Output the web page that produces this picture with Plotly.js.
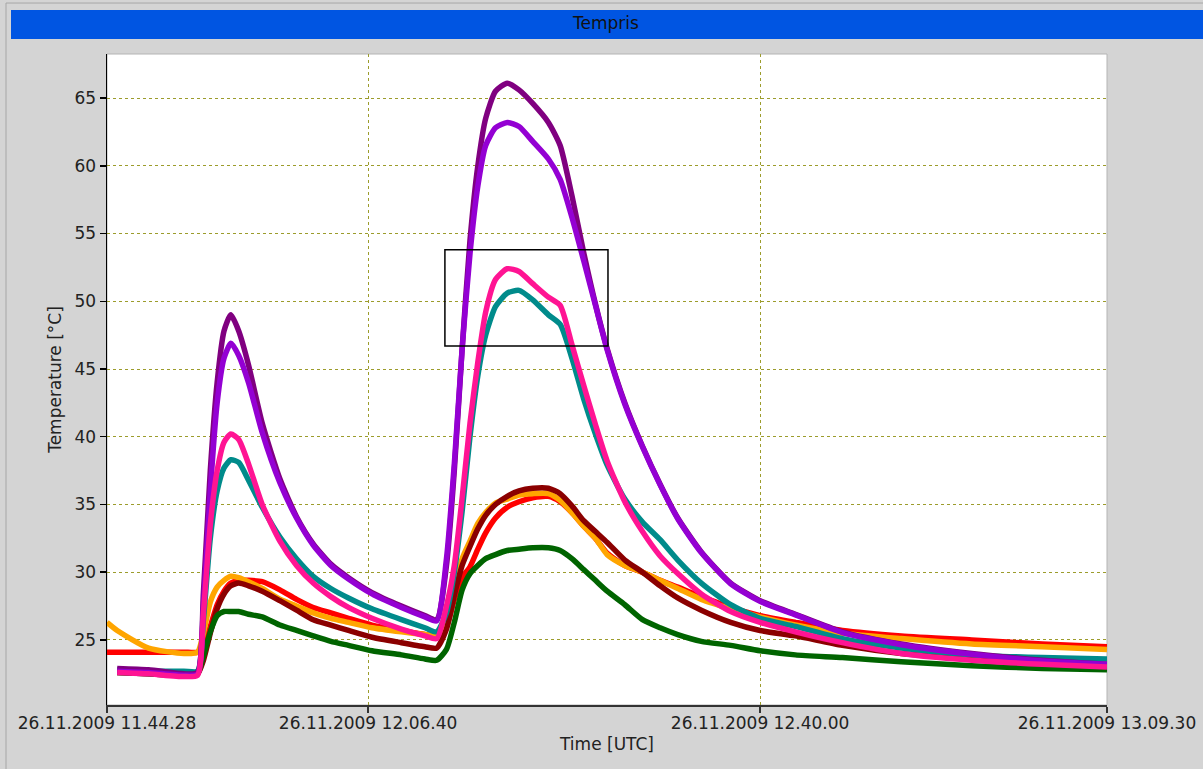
<!DOCTYPE html>
<html>
<head>
<meta charset="utf-8">
<script src="https://cdn.plot.ly/plotly-3.0.1.min.js"></script>
<style>
html,body{margin:0;padding:0;background:#d4d4d4;overflow:hidden;}
#chart{width:1203px;height:769px;}
</style>
</head>
<body>
<div id="chart"></div>
<script>
// ---- data ----
const day = "2009-11-26";
const times = ["11:44:28","11:45:20","11:48:00","11:51:00","11:52:10","11:52:40","11:53:15","11:53:50","11:54:25","11:55:00",
  "11:55:40","11:56:30","11:57:40","11:59:10","12:00:35","12:02:00","12:03:30","12:05:00","12:07:00","12:09:30",
  "12:11:30","12:12:30","12:13:20","12:14:00","12:14:40","12:15:20","12:16:00","12:16:40","12:17:30","12:18:30",
  "12:19:30","12:20:40","12:22:00","12:23:00","12:24:00","12:25:00","12:26:00","12:27:00","12:28:30","12:30:00",
  "12:31:30","12:33:00","12:35:00","12:37:30","12:40:00","12:43:00","12:47:00","12:52:00","12:58:00","13:04:00","13:09:30"];

const red = [24.1,24.1,24.1,24.1,24.1,24.5,26.0,27.6,28.6,29.2,29.4,29.4,29.3,28.7,28.0,27.4,27.0,26.6,26.1,25.7,25.4,25.3,26.0,28.0,29.6,30.4,31.7,32.9,34.0,34.8,35.2,35.5,35.6,35.2,34.4,33.4,32.5,31.4,30.5,30.0,29.4,28.9,28.2,27.4,26.8,26.3,25.7,25.3,25.0,24.7,24.5];
const orange = [26.3,25.7,24.4,24.0,24.1,25.5,27.8,28.9,29.4,29.7,29.6,29.3,28.8,28.0,27.5,27.0,26.6,26.3,25.9,25.6,25.4,25.3,26.5,28.8,31.0,32.3,33.6,34.4,35.1,35.4,35.7,35.8,35.8,35.3,34.4,33.4,32.5,31.3,30.5,30.0,29.4,28.8,28.0,27.3,26.7,26.1,25.5,25.1,24.7,24.5,24.3];
const darkRed = [null,22.6,22.5,22.4,22.5,23.5,25.5,27.3,28.4,29.0,29.2,29.0,28.6,27.9,27.2,26.5,26.1,25.7,25.2,24.8,24.5,24.4,25.8,28.3,30.5,31.9,33.2,34.2,35.0,35.6,36.0,36.2,36.2,35.8,34.9,33.8,33.0,32.2,30.9,30.0,29.0,28.1,27.2,26.3,25.7,25.3,24.6,24.0,23.6,23.3,23.1];
const green = [null,22.6,22.5,22.4,22.5,23.8,25.6,26.8,27.1,27.1,27.1,26.9,26.7,26.1,25.7,25.3,24.9,24.6,24.2,23.9,23.6,23.5,24.3,26.3,28.7,29.9,30.5,31.0,31.3,31.6,31.7,31.8,31.8,31.6,31.0,30.2,29.4,28.6,27.6,26.5,25.9,25.4,24.9,24.6,24.2,23.9,23.7,23.4,23.1,22.9,22.8];
const teal = [null,22.8,22.7,22.7,22.7,26.5,32.5,36.0,37.7,38.3,38.1,36.8,34.8,32.6,31.0,29.7,28.8,28.1,27.3,26.5,25.9,25.6,27.0,30.0,34.5,40.0,44.5,47.5,49.6,50.6,50.8,50.1,49.0,48.3,45.8,42.8,40.2,37.9,35.4,33.7,32.4,30.9,29.2,27.6,26.6,26.0,25.1,24.4,23.9,23.7,23.6];
const purple = [null,22.9,22.8,22.5,22.6,28.5,37.5,44.0,47.8,49.0,47.8,45.3,41.0,36.9,34.1,32.1,30.6,29.6,28.5,27.5,26.8,26.5,30.5,37.5,46.5,54.5,60.0,63.5,65.5,66.1,65.6,64.6,63.2,61.5,57.8,53.6,49.8,46.5,42.5,39.3,36.5,34.0,31.5,29.2,27.9,26.9,25.6,24.7,24.0,23.5,23.2];
const violet = [null,22.7,22.6,22.4,22.5,27.5,36.0,42.5,45.8,46.9,46.0,44.0,40.3,36.6,34.0,32.0,30.5,29.5,28.4,27.4,26.7,26.4,31.0,38.0,46.5,53.5,58.5,61.5,62.8,63.2,62.9,61.8,60.5,59.0,56.2,53.0,49.7,46.4,42.4,39.25,36.45,33.95,31.45,29.15,27.85,26.85,25.55,24.65,23.95,23.45,23.2];
const pink = [null,22.6,22.5,22.3,22.4,27.0,33.5,37.5,39.6,40.2,39.8,38.0,35.0,32.3,30.5,29.2,28.2,27.4,26.6,25.8,25.3,25.1,27.5,30.5,35.5,41.0,45.5,49.2,51.6,52.4,52.2,51.3,50.3,49.7,46.8,43.8,40.9,38.2,35.2,33.0,31.2,29.9,28.4,27.1,26.3,25.6,24.8,24.0,23.5,23.2,23.0];

const tickTimes = ["11:44:28","12:06:40","12:40:00","13:09:30"];
const tickLabels = ["26.11.2009 11.44.28","26.11.2009 12.06.40","26.11.2009 12.40.00","26.11.2009 13.09.30"];
const yTicks = [25,30,35,40,45,50,55,60,65];
const xRange = ["11:44:28","13:09:30"];
const yRange = [20.2,68.25];
const boxTimes = ["12:13:12","12:27:04"];
const boxTemps = [46.7,53.8];

// ---- traces ----
const stamp = t => day + " " + t;
const x = times.map(stamp);
const series = [
  {name:"red", y:red, color:"#ff0000"},
  {name:"orange", y:orange, color:"#ffa500"},
  {name:"dark red", y:darkRed, color:"#8b0000"},
  {name:"green", y:green, color:"#006400"},
  {name:"teal", y:teal, color:"#008b8b"},
  {name:"purple", y:purple, color:"#800080"},
  {name:"violet", y:violet, color:"#9400d3"},
  {name:"pink", y:pink, color:"#ff1493"}
];
const data = series.map(s => ({
  type:"scatter", mode:"lines", name:s.name, x:x, y:s.y,
  line:{color:s.color, width:5.5, shape:"spline", smoothing:0.6}, connectgaps:false, hoverinfo:"skip"
}));

const font = "DejaVu Sans, Liberation Sans, sans-serif";
const layout = {
  width:1203, height:769,
  paper_bgcolor:"#d4d4d4", plot_bgcolor:"#ffffff",
  margin:{l:107, r:96, t:54, b:64, pad:0},
  showlegend:false,
  font:{family:font, size:17, color:"#222222"},
  title:{text:"Tempris", x:606/1203, xanchor:"center", xref:"container",
         y:1-23/769, yanchor:"middle", yref:"container",
         font:{family:font, size:17, color:"#111111"}},
  xaxis:{
    type:"date", range:xRange.map(stamp),
    tickmode:"array", tickvals:tickTimes.map(stamp), ticktext:tickLabels,
    showgrid:true, gridcolor:"#9c9c2c", griddash:"dot", gridwidth:1,
    showline:true, linecolor:"#333333", linewidth:1.5,
    ticks:"outside", ticklen:6, tickcolor:"#333333", tickwidth:1.5,
    zeroline:false, fixedrange:true, ticklabelstandoff:-4,
    tickfont:{family:font, size:17, color:"#222222"},
    title:{text:"Time [UTC]", standoff:6, font:{family:font, size:17, color:"#222222"}}
  },
  yaxis:{
    range:yRange, tickmode:"array", tickvals:yTicks,
    showgrid:true, gridcolor:"#9c9c2c", griddash:"dot", gridwidth:1,
    showline:true, linecolor:"#000000", linewidth:1.5,
    ticks:"outside", ticklen:6, tickcolor:"#000000", tickwidth:1.5,
    zeroline:false, fixedrange:true, ticklabelstandoff:0,
    tickfont:{family:font, size:17, color:"#222222"},
    title:{text:"Temperature [°C]", standoff:8, font:{family:font, size:17, color:"#222222"}}
  },
  shapes:[
    {type:"rect", xref:"paper", yref:"paper", x0:-0.101, x1:1.2, y0:-0.3, y1:1.0783,
     line:{color:"#a6a6a6", width:1}, fillcolor:"rgba(0,0,0,0)", layer:"below"},
    {type:"rect", xref:"paper", yref:"paper", x0:-0.096, x1:1.2, y0:1.02304, y1:1.06759,
     line:{width:0}, fillcolor:"#0055e2", layer:"below"},
    {type:"rect", xref:"paper", yref:"paper", x0:0, x1:1, y0:0, y1:1,
     line:{color:"#b4b4b4", width:1}, fillcolor:"rgba(0,0,0,0)", layer:"below"},
    {type:"rect", xref:"x", yref:"y", x0:stamp(boxTimes[0]), x1:stamp(boxTimes[1]),
     y0:boxTemps[0], y1:boxTemps[1], line:{color:"#000000", width:1.5},
     fillcolor:"rgba(0,0,0,0)", layer:"above"}
  ]
};

Plotly.newPlot("chart", data, layout, {displayModeBar:false, staticPlot:true});
</script>
</body>
</html>
